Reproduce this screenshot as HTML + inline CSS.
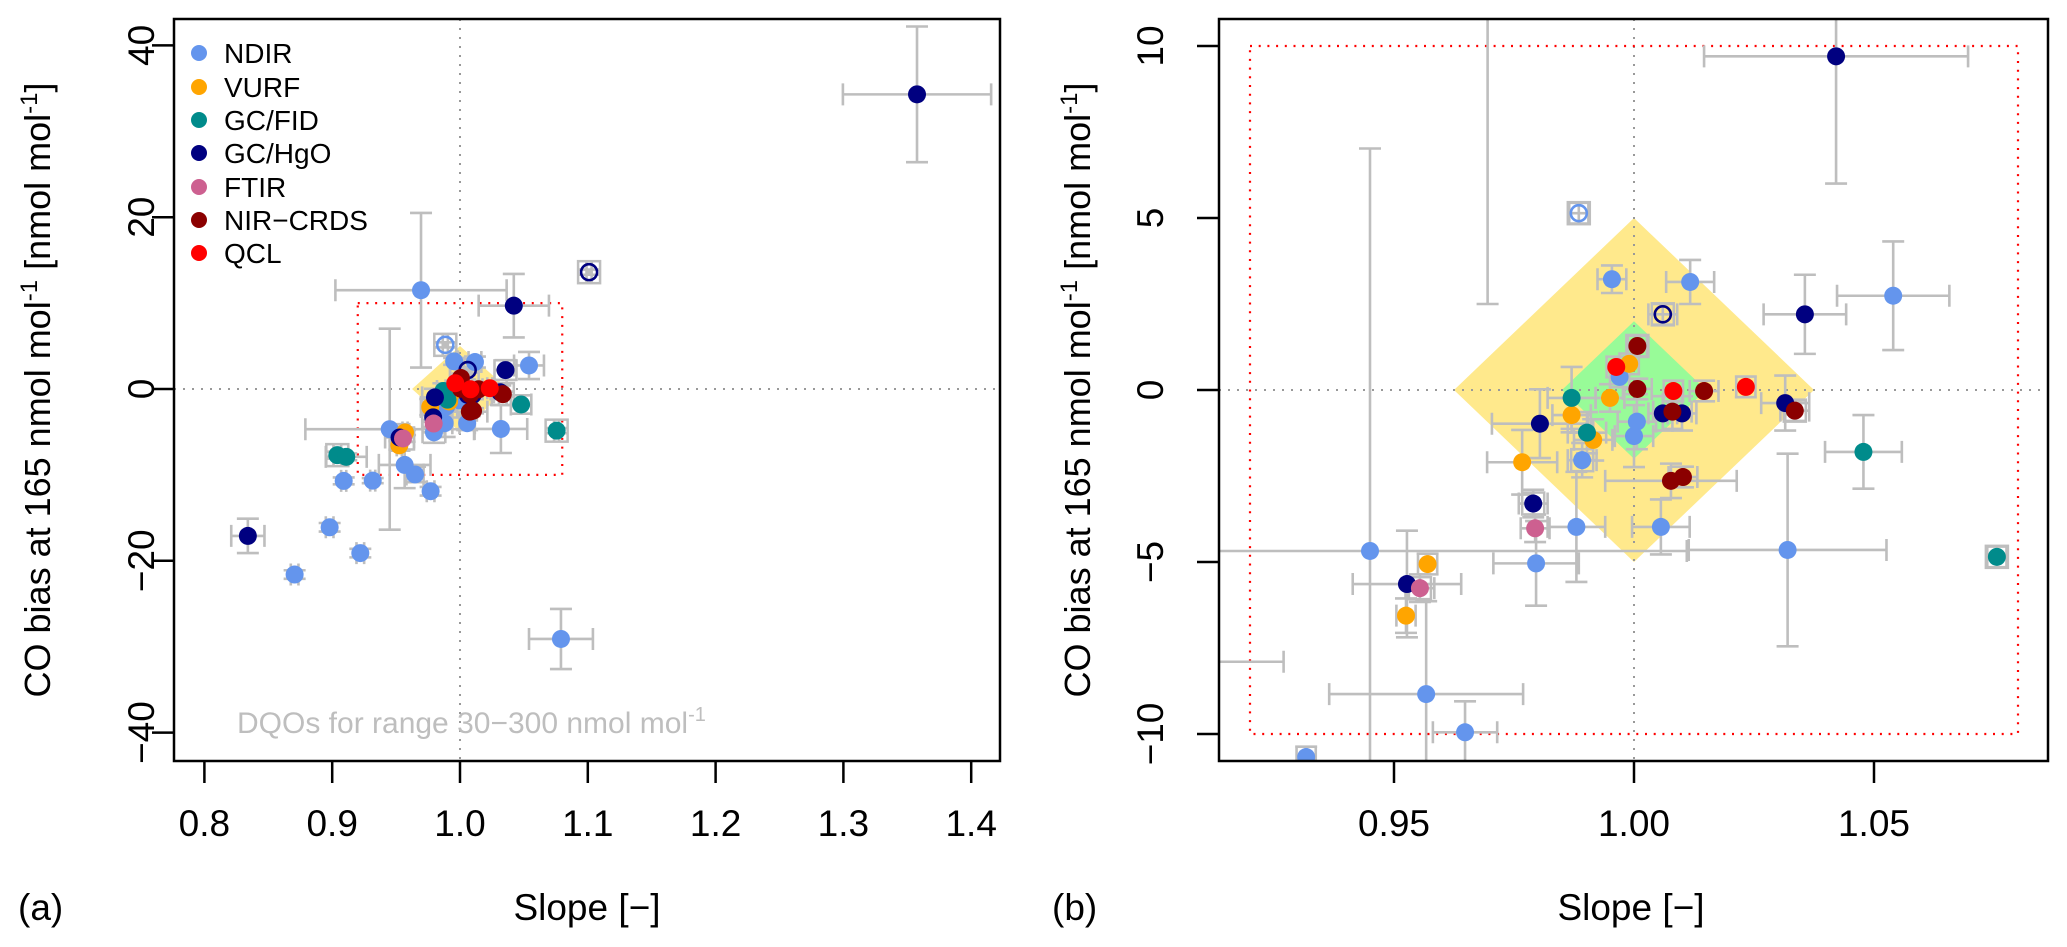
<!DOCTYPE html>
<html><head><meta charset="utf-8">
<style>
html,body{margin:0;padding:0;background:#fff;width:2067px;height:947px;overflow:hidden;}
svg{display:block;font-family:"Liberation Sans",Arial,sans-serif;}
</style></head>
<body>
<svg id="chart" xmlns="http://www.w3.org/2000/svg" width="2067" height="947" viewBox="0 0 2067 947" overflow="hidden">
<defs>
<clipPath id="clipA"><rect x="174" y="19" width="826" height="742"/></clipPath>
<clipPath id="clipB"><rect x="1219" y="19" width="829" height="742"/></clipPath>
</defs>
</svg>
<script>
// ---- data ----
const instruments = ["NDIR","VURF","GC/FID","GC/HgO","FTIR","NIR-CRDS","QCL"];
const instColors = ["#6495ED","#FFA500","#008B8B","#000080","#CD6090","#8B0000","#FF0000"];
const pInst  = [0,0,0,0,0,0,0,0,0,0,0,0,0,0,0,0,0,0,0,0,0,0,0, 1,1,1,1,1,1,1, 2,2,2,2,2,2, 3,3,3,3,3,3,3,3,3,3,3,3, 4,4, 5,5,5,5,5,5,5, 6,6,6];
const pSlope = [0.9695,0.9885,0.9954,1.0117,1.054,0.997,1.0006,1.000,0.9892,0.988,1.0056,0.9796,1.032,0.945,0.9567,0.9648,0.9317,0.909,0.977,0.8706,0.898,0.922,1.079,
  0.999,0.995,0.987,0.9915,0.9767,0.957,0.9525,
  0.987,0.9902,1.0478,1.0756,0.904,0.911,
  1.3576,1.101,1.0421,1.006,1.0356,1.0315,1.006,1.010,0.9804,0.979,0.9527,0.834,
  0.9794,0.9554,
  1.0007,1.0007,1.0146,1.0335,1.008,1.0077,1.0102,
  0.9963,1.0082,1.0233];
const pBias  = [11.5,5.14,3.22,3.14,2.74,0.38,-0.92,-1.34,-2.04,-3.98,-3.98,-5.04,-4.65,-4.68,-8.84,-9.95,-10.67,-10.7,-11.9,-21.6,-16.1,-19.1,-29.1,
  0.76,-0.23,-0.73,-1.45,-2.1,-5.06,-6.56,
  -0.23,-1.24,-1.8,-4.85,-7.7,-7.9,
  34.3,13.6,9.7,2.2,2.2,-0.38,-0.68,-0.68,-0.98,-3.3,-5.64,-17.1,
  -4.02,-5.76,
  1.28,0.03,-0.03,-0.6,-0.63,-2.64,-2.53,
  0.67,-0.03,0.09];
const pSlopeErr = [0.067,0.002,0.003,0.005,0.0117,0.002,0.004,0.004,0.003,0.006,0.006,0.0089,0.0206,0.066,0.0202,0.0067,0.002,0.002,0.003,0.003,0.003,0.003,0.025,
  0.002,0.003,0.004,0.004,0.0073,0.002,0.002,
  0.005,0.004,0.008,0.002,0.003,0.016,
  0.058,0.002,0.0275,0.003,0.0086,0.005,0.003,0.003,0.01,0.003,0.0113,0.013,
  0.003,0.003,
  0.002,0.003,0.003,0.003,0.004,0.0137,0.003,
  0.002,0.002,0.002];
const pBiasErr = [9.0,0.3,0.4,0.64,1.58,0.3,0.8,0.9,0.5,1.6,0.8,1.23,2.8,11.7,2.7,0.9,0.3,0.4,0.5,0.5,0.5,0.5,3.5,
  0.3,0.4,0.5,0.6,0.94,0.3,0.5,
  0.9,0.6,1.07,0.3,0.4,0.4,
  7.9,0.3,3.7,0.3,1.15,0.8,0.5,0.5,1.0,0.4,1.55,2.0,
  0.4,0.4,
  0.3,0.3,0.3,0.3,0.5,0.5,0.3,
  0.3,0.3,0.3];
const pOpen   = [0,1,0,0,0,0,0,0,0,0,0,0,0,0,0,0,0,0,0,0,0,0,0, 0,0,0,0,0,0,0, 0,0,0,0,0,0, 0,1,0,1,0,0,0,0,0,0,0,0, 0,0, 0,0,0,0,0,0,0, 0,0,0];
const pSquare = [0,1,0,0,0,0,0,0,1,0,0,0,0,0,0,0,0,0,0,0,0,0,0, 0,0,0,0,0,0,0, 0,0,0,1,1,0, 0,1,0,1,0,0,0,0,0,1,0,0, 0,1, 1,0,0,1,0,0,0, 0,0,0];
const xTicksA = [0.8,0.9,1.0,1.1,1.2,1.3,1.4];
const xTickLabelsA = ["0.8","0.9","1.0","1.1","1.2","1.3","1.4"];
const yTicksA = [-40,-20,0,20,40];
const xTicksB = [0.95,1.00,1.05];
const xTickLabelsB = ["0.95","1.00","1.05"];
const yTicksB = [-10,-5,0,5,10];
const dqoBox = [0.92,1.08,-10,10];
const yellowDiamond = [0.0375,5];
const greenDiamond = [0.015,2];

// ---- drawing ----
const NS = "http://www.w3.org/2000/svg";
const svg = document.getElementById("chart");
function mk(tag, attrs, parent){
  const e = document.createElementNS(NS, tag);
  for (const k in attrs) e.setAttribute(k, attrs[k]);
  (parent||svg).appendChild(e);
  return e;
}
const panels = [
  {id:"a", x0:174, x1:1000, y0:19, y1:761, sx:s=>460+(s-1)*1278, sy:b=>389-b*8.59, clip:"url(#clipA)",
   xt:xTicksA, xtl:xTickLabelsA, yt:yTicksA, ytx:154, ylx:50, slopeX:587, letterX:18},
  {id:"b", x0:1219, x1:2048, y0:19, y1:761, sx:s=>1634+(s-1)*4800, sy:b=>390-b*34.4, clip:"url(#clipB)",
   xt:xTicksB, xtl:xTickLabelsB, yt:yTicksB, ytx:1163, ylx:1090, slopeX:1631, letterX:1052}
];
panels.forEach(P=>{
  const g = mk("g",{"clip-path":P.clip});
  
  
  [[yellowDiamond,"#FFE98C","dqo-yellow-diamond"],[greenDiamond,"#98FB98","dqo-green-diamond"]].forEach(d=>{
    const ds=d[0][0], db=d[0][1];
    const pts=[[P.sx(1-ds),P.sy(0)],[P.sx(1),P.sy(db)],[P.sx(1+ds),P.sy(0)],[P.sx(1),P.sy(-db)]].map(p=>p.join(",")).join(" ");
    const pg = mk("polygon",{points:pts, fill:d[1]}, g);
    
    
  });
  const vl = mk("line",{x1:P.sx(1),x2:P.sx(1),y1:P.y0,y2:P.y1,stroke:"#999","stroke-width":2,"stroke-dasharray":"2 7"}, g);
  
  
  const hl = mk("line",{x1:P.x0,x2:P.x1,y1:P.sy(0),y2:P.sy(0),stroke:"#999","stroke-width":2,"stroke-dasharray":"2 7"}, g);
  
  
  const rb = mk("rect",{x:P.sx(dqoBox[0]),y:P.sy(dqoBox[3]),width:P.sx(dqoBox[1])-P.sx(dqoBox[0]),height:P.sy(dqoBox[2])-P.sy(dqoBox[3]),fill:"none",stroke:"#FF0000","stroke-width":2.2,"stroke-dasharray":"2 6.7"}, g);
  
  
  for(let i=0;i<pSlope.length;i++){
    const cx=P.sx(pSlope[i]), cy=P.sy(pBias[i]);
    const xl=P.sx(pSlope[i]-pSlopeErr[i]), xr=P.sx(pSlope[i]+pSlopeErr[i]);
    const yt=P.sy(pBias[i]+pBiasErr[i]), yb=P.sy(pBias[i]-pBiasErr[i]);
    const d=`M${xl},${cy}H${xr}M${xl},${cy-11}V${cy+11}M${xr},${cy-11}V${cy+11}M${cx},${yt}V${yb}M${cx-11},${yt}H${cx+11}M${cx-11},${yb}H${cx+11}`;
    const eb = mk("path",{d:d,stroke:"#BEBEBE","stroke-width":2.6,fill:"none"}, g);
    
    
  }
  for(let i=0;i<pSlope.length;i++){
    if(!pSquare[i]) continue;
    const sq = mk("rect",{x:P.sx(pSlope[i])-11,y:P.sy(pBias[i])-11,width:22,height:22,fill:"none",stroke:"#BEBEBE","stroke-width":2.5}, g);
    
    
  }
  for(let i=0;i<pSlope.length;i++){
    const c=instColors[pInst[i]];
    const pt = mk("circle",{cx:P.sx(pSlope[i]),cy:P.sy(pBias[i]),r:pOpen[i]?8:9,fill:pOpen[i]?"none":c,stroke:pOpen[i]?c:"none","stroke-width":2.6}, g);
    
    
  }
  const fr = mk("rect",{x:P.x0,y:P.y0,width:P.x1-P.x0,height:P.y1-P.y0,fill:"none",stroke:"#000","stroke-width":2.5});
  
  
  P.xt.forEach((v,k)=>{
    const x=P.sx(v);
    const t = mk("line",{x1:x,x2:x,y1:P.y1,y2:P.y1+22,stroke:"#000","stroke-width":2.5});
    
    
    const tl = mk("text",{x:x,y:836,"text-anchor":"middle","font-size":37});
    
    
    tl.textContent=P.xtl[k];
  });
  P.yt.forEach(v=>{
    const y=P.sy(v);
    const t = mk("line",{x1:P.x0-22,x2:P.x0,y1:y,y2:y,stroke:"#000","stroke-width":2.5});
    
    
    const tl = mk("text",{x:P.ytx,y:y,"text-anchor":"middle","font-size":37,transform:`rotate(-90 ${P.ytx} ${y})`});
    
    
    tl.textContent = v<0 ? "\u2212"+Math.abs(v) : String(v);
  });
  const yl = mk("text",{x:P.ylx,y:390,"text-anchor":"middle","font-size":36,transform:`rotate(-90 ${P.ylx} 390)`});
  
  
  yl.innerHTML = 'CO bias at 165 nmol mol<tspan font-size="24" dy="-13">-1</tspan><tspan dy="13">  [nmol mol</tspan><tspan font-size="24" dy="-13">-1</tspan><tspan dy="13">]</tspan>';
  const xl = mk("text",{x:P.slopeX,y:920,"text-anchor":"middle","font-size":37});
  
  
  xl.textContent = "Slope [\u2212]";
  const lt = mk("text",{x:P.letterX,y:920,"font-size":37});
  
  
  lt.textContent = "("+P.id+")";
});
const legendYs = [53,87,120,153,187,220,253];
instruments.forEach((name,i)=>{
  const g = mk("g",{});
  
  
  mk("circle",{cx:199,cy:legendYs[i],r:8,fill:instColors[i]}, g);
  const t = mk("text",{x:224,y:legendYs[i]+10,"font-size":28}, g);
  t.textContent = name.replace("-","\u2212");
});
const dq = mk("text",{x:237,y:733,"font-size":30,fill:"#BEBEBE"});


dq.innerHTML = 'DQOs for range 30\u2212300 nmol mol<tspan font-size="20" dy="-12">-1</tspan>';
</script>
</body></html>
